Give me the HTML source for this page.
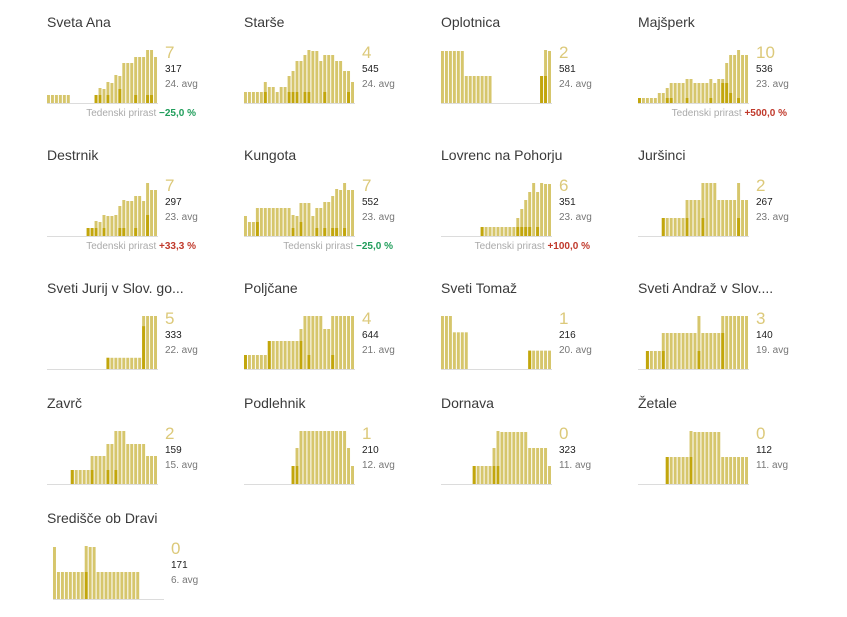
<!DOCTYPE html>
<html><head><meta charset="utf-8">
<style>
body{margin:0;background:#fff;width:847px;height:617px;overflow:hidden;position:relative;font-family:"Liberation Sans",sans-serif;}
.t{position:absolute;white-space:nowrap;}
.title{font-size:14px;color:#3a3a3a;}
.big{font-size:17px;color:#dcc97a;}
.pop{font-size:10px;color:#222;}
.avg{font-size:10px;color:#777;}
.foot{font-size:10px;color:#aaa;text-align:right;width:200px;}
.foot b{font-weight:bold;}
svg{position:absolute;left:0;top:0;}
</style></head>
<body>
<svg id="chart" width="847" height="617"></svg>
<script>
const names = ["Sveta Ana","Starše","Oplotnica","Majšperk","Destrnik","Kungota","Lovrenc na Pohorju","Juršinci","Sveti Jurij v Slov. go...","Poljčane","Sveti Tomaž","Sveti Andraž v Slov....","Zavrč","Podlehnik","Dornava","Žetale","Središče ob Dravi"];
const bigValues = ["7","4","2","10","7","7","6","2","5","4","1","3","2","1","0","0","0"];
const popValues = ["317","545","581","536","297","552","351","267","333","644","216","140","159","210","323","112","171"];
const avgLabels = ["24. avg","24. avg","24. avg","23. avg","23. avg","23. avg","23. avg","23. avg","22. avg","21. avg","20. avg","19. avg","15. avg","12. avg","11. avg","11. avg","6. avg"];
const growth = ["−25,0 %",null,null,"+500,0 %","+33,3 %","−25,0 %","+100,0 %",null,null,null,null,null,null,null,null,null,null];

const svetaAnaL=[8,8,8,8,8,8,0,0,0,0,0,0,8,15,14,21,20,28,27,40,40,40,46,46,46,53,53,46];
const svetaAnaD=[0,0,0,0,0,0,0,0,0,0,0,0,8,8,0,8,0,0,14,0,0,0,8,0,0,8,8,0];
const starseL=[11,11,11,11,11,21,16,16,11,16,16,27,32,42,42,48,53,52,52,42,48,48,48,42,42,32,32,21];
const starseD=[0,0,0,0,0,11,0,0,0,0,0,11,11,11,0,11,11,0,0,0,11,0,0,0,0,0,11,0];
const oplotnicaL=[52,52,52,52,52,52,27,27,27,27,27,27,27,0,0,0,0,0,0,0,0,0,0,0,0,27,53,52];
const oplotnicaD=[0,0,0,0,0,0,0,0,0,0,0,0,0,0,0,0,0,0,0,0,0,0,0,0,0,27,27,0];
const majsperkL=[5,5,5,5,5,10,10,15,20,20,20,20,24,24,20,20,20,20,24,20,24,24,40,48,48,53,48,48];
const majsperkD=[5,0,0,0,0,0,0,5,5,0,0,0,5,0,0,0,0,0,5,0,0,20,20,10,0,5,0,0];
const destrnikL=[0,0,0,0,0,0,0,0,0,0,8,8,15,14,21,20,20,21,30,36,35,35,40,40,35,53,46,46];
const destrnikD=[0,0,0,0,0,0,0,0,0,0,8,8,8,0,8,0,0,0,8,8,0,0,8,0,0,21,0,0];
const kungotaL=[20,14,14,28,28,28,28,28,28,28,28,28,21,20,33,33,33,20,28,28,34,34,40,47,46,53,46,46];
const kungotaD=[0,0,0,14,0,0,0,0,0,0,0,0,8,0,14,0,0,0,8,0,8,0,8,8,0,8,0,0];
const lovrencL=[0,0,0,0,0,0,0,0,0,0,9,9,9,9,9,9,9,9,9,18,27,36,44,53,44,53,52,52];
const lovrencD=[0,0,0,0,0,0,0,0,0,0,9,0,0,0,0,0,0,0,0,9,9,9,9,0,9,0,0,0];
const jursinciL=[0,0,0,0,0,0,18,18,18,18,18,18,36,36,36,36,53,53,53,53,36,36,36,36,36,53,36,36];
const jursinciD=[0,0,0,0,0,0,18,0,0,0,0,0,18,0,0,0,18,0,0,0,0,0,0,0,0,18,0,0];
const jurijL=[0,0,0,0,0,0,0,0,0,0,0,0,0,0,0,11,11,11,11,11,11,11,11,11,52,52,52,52];
const jurijD=[0,0,0,0,0,0,0,0,0,0,0,0,0,0,0,11,0,0,0,0,0,0,0,0,42,0,0,0];
const poljcaneL=[14,14,14,14,14,14,28,28,28,28,28,28,28,28,40,53,53,53,53,53,40,40,53,53,53,53,53,53];
const poljcaneD=[14,0,0,0,0,0,28,0,0,0,0,0,0,0,28,0,14,0,0,0,0,0,14,0,0,0,0,0];
const tomazL=[52,52,52,36,36,36,36,0,0,0,0,0,0,0,0,0,0,0,0,0,0,0,18,18,18,18,18,18];
const tomazD=[0,0,0,0,0,0,0,0,0,0,0,0,0,0,0,0,0,0,0,0,0,0,18,0,0,0,0,0];
const andrazL=[0,0,18,18,18,18,36,36,36,36,36,36,36,36,36,53,36,36,36,36,36,53,53,53,53,53,53,53];
const andrazD=[0,0,18,0,0,0,18,0,0,0,0,0,0,0,0,18,0,0,0,0,0,36,0,0,0,0,0,0];
const zavrcL=[0,0,0,0,0,0,14,14,14,14,14,28,28,28,28,40,40,53,53,53,40,40,40,40,40,28,28,28];
const zavrcD=[0,0,0,0,0,0,14,0,0,0,0,14,0,0,0,14,0,14,0,0,0,0,0,0,0,0,0,0];
const podlehnikL=[0,0,0,0,0,0,0,0,0,0,0,0,18,36,53,53,53,53,53,53,53,53,53,53,53,53,36,18];
const podlehnikD=[0,0,0,0,0,0,0,0,0,0,0,0,18,18,0,0,0,0,0,0,0,0,0,0,0,0,0,0];
const dornavaL=[0,0,0,0,0,0,0,0,18,18,18,18,18,36,53,52,52,52,52,52,52,52,36,36,36,36,36,18];
const dornavaD=[0,0,0,0,0,0,0,0,18,0,0,0,0,18,18,0,0,0,0,0,0,0,0,0,0,0,0,0];
const zetaleL=[0,0,0,0,0,0,0,27,27,27,27,27,27,53,52,52,52,52,52,52,52,27,27,27,27,27,27,27];
const zetaleD=[0,0,0,0,0,0,0,27,0,0,0,0,0,27,0,0,0,0,0,0,0,0,0,0,0,0,0,0];
const srediL=[52,27,27,27,27,27,27,27,53,52,52,27,27,27,27,27,27,27,27,27,27,27,0,0,0,0,0,0];
const srediD=[0,0,0,0,0,0,0,0,27,0,0,0,0,0,0,0,0,0,0,0,0,0,0,0,0,0,0,0];

const lightSeries=[svetaAnaL,starseL,oplotnicaL,majsperkL,destrnikL,kungotaL,lovrencL,jursinciL,jurijL,poljcaneL,tomazL,andrazL,zavrcL,podlehnikL,dornavaL,zetaleL,srediL];
const darkSeries=[svetaAnaD,starseD,oplotnicaD,majsperkD,destrnikD,kungotaD,lovrencD,jursinciD,jurijD,poljcaneD,tomazD,andrazD,zavrcD,podlehnikD,dornavaD,zetaleD,srediD];

const colX=[47,244,441,638];
const baseY=[103,236,369,484,599];
const svg=document.getElementById('chart');
const NS="http://www.w3.org/2000/svg";
const CW=111, CH=53;

function addText(cls,x,y,html,name){
  const d=document.createElement('div');
  d.className='t '+cls;
  d.style.left=x+'px';d.style.top=y+'px';
  d.innerHTML=html;
  
  
  document.body.appendChild(d);
  return d;
}

names.forEach((nm,i)=>{
  const r=Math.floor(i/4), c=i%4;
  const tx=colX[c];
  const cx=tx+(r===4?6:0);
  const by=baseY[r];
  const L=lightSeries[i], D=darkSeries[i];
  const maxV=Math.max(...L,1);
  const step=CW/L.length;
  const y=v=>by - v/maxV*CH;
  const xs=k=>cx + k*step;
  const g=document.createElementNS(NS,'g');
  
  
  svg.appendChild(g);
  const base=document.createElementNS(NS,'line');
  base.setAttribute('x1',cx);base.setAttribute('x2',cx+CW);
  base.setAttribute('y1',by+0.5);base.setAttribute('y2',by+0.5);
  base.setAttribute('stroke','#dcdcdc');
  
  
  g.appendChild(base);
  L.forEach((v,k)=>{
    if(v<=0)return;
    const b=document.createElementNS(NS,'rect');
    b.setAttribute('x',xs(k).toFixed(2));b.setAttribute('width',(step-1).toFixed(2));
    b.setAttribute('y',y(v).toFixed(2));b.setAttribute('height',(by-y(v)).toFixed(2));
    b.setAttribute('fill','#d6c66c');
    
    
    g.appendChild(b);
  });
  D.forEach((v,k)=>{
    if(v<=0)return;
    const b=document.createElementNS(NS,'rect');
    b.setAttribute('x',xs(k).toFixed(2));b.setAttribute('width',(step-1).toFixed(2));
    b.setAttribute('y',y(v).toFixed(2));b.setAttribute('height',(by-y(v)).toFixed(2));
    b.setAttribute('fill','#c2a60c');
    
    
    g.appendChild(b);
  });
  addText('title',tx,by-89,nm,'panel-title');
  addText('big',cx+118,by-60,bigValues[i],'new-cases-value');
  addText('pop',cx+118,by-39,popValues[i],'total-value');
  addText('avg',cx+118,by-24,avgLabels[i],'date-label');
  if(growth[i]){
    const col=growth[i][0]==='+'?'#c0392b':'#1f9d5a';
    const f=addText('foot',cx+149-200,by+5,'Tedenski prirast <b style="color:'+col+'">'+growth[i]+'</b>','weekly-growth');
  }
});
</script>
</body></html>
